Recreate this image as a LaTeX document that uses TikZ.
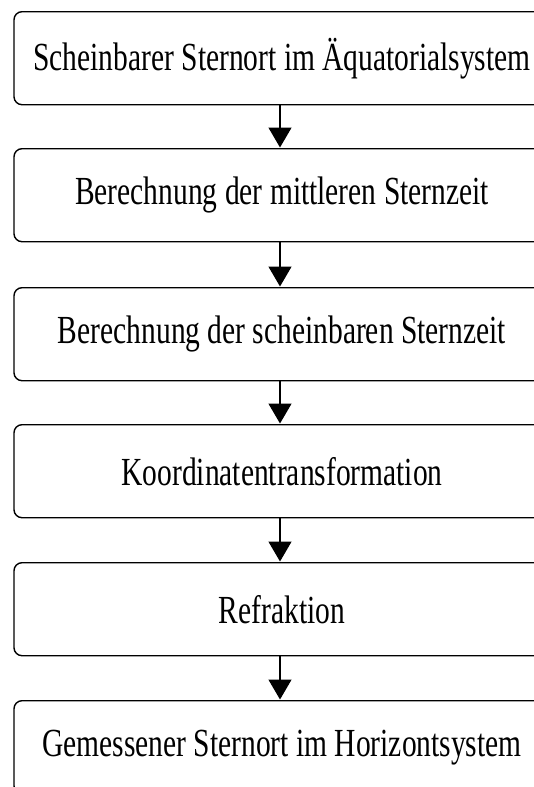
\documentclass[tikz,border=0pt]{standalone}
\usepackage{fontspec}
\setmainfont{Liberation Serif}
\usetikzlibrary{arrows.meta}
\newcommand{\tallText}[1]{\scalebox{1}[1.35]{#1}}
\begin{document}
\begin{tikzpicture}[x=1pt,y=-1pt,
  stepbox/.style={draw, line width=1.4pt, rounded corners=8pt,
    minimum width=536pt, minimum height=93pt, inner sep=0pt,
    font=\fontsize{29.5}{34}\selectfont, anchor=north},
  flow/.style={line width=1.4pt, -{Triangle[width=23pt,length=20pt]}, shorten >=0.5pt}]
\useasboundingbox (0,0) rectangle (533,787);
\node[stepbox] (s1) at (282,11)  {\tallText{Scheinbarer Sternort im Äquatorialsystem}};
\node[stepbox] (s2) at (282,148) {\tallText{Berechnung der mittleren Sternzeit}};
\node[stepbox] (s3) at (282,287) {\tallText{Berechnung der scheinbaren Sternzeit}};
\node[stepbox] (s4) at (282,424) {\tallText{Koordinatentransformation}};
\node[stepbox] (s5) at (282,562) {\tallText{Refraktion}};
\node[stepbox] (s6) at (282,700) {\tallText{Gemessener Sternort im Horizontsystem}};
\foreach \a/\b in {s1/s2,s2/s3,s3/s4,s4/s5,s5/s6}
  \draw[flow] ([xshift=-2pt]\a.south) -- ([xshift=-2pt]\b.north);
\end{tikzpicture}
\end{document}
